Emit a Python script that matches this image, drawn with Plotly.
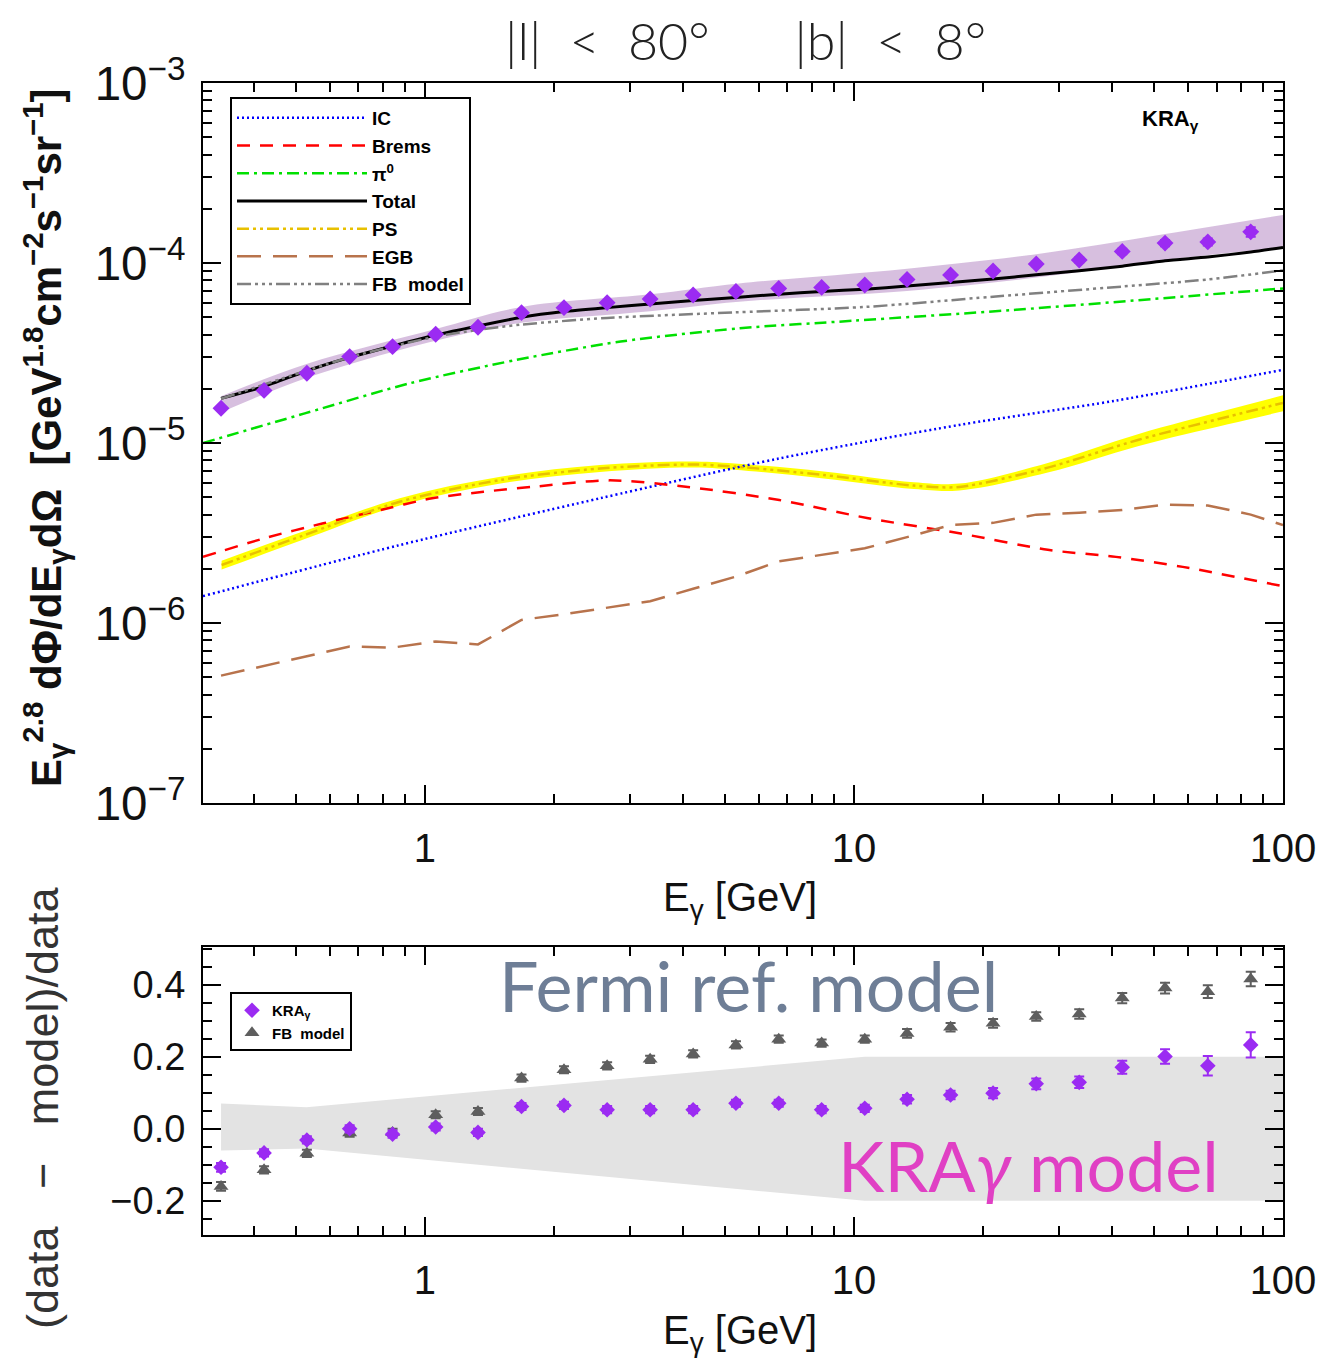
import plotly.graph_objects as go

# ---------------- data ----------------
E_data = [0.335, 0.422, 0.531, 0.668, 0.841, 1.06, 1.33, 1.68, 2.11, 2.66, 3.35, 4.22, 5.31,
          6.68, 8.41, 10.6, 13.3, 16.8, 21.1, 26.6, 33.5, 42.2, 53.1, 66.8, 84.1]
flux_data = [1.56e-5, 1.96e-5, 2.44e-5, 3.02e-5, 3.43e-5, 4.02e-5, 4.40e-5, 5.30e-5, 5.65e-5,
             6.02e-5, 6.31e-5, 6.64e-5, 6.94e-5, 7.22e-5, 7.32e-5, 7.55e-5, 8.11e-5, 8.58e-5,
             9.03e-5, 9.87e-5, 1.04e-4, 1.16e-4, 1.29e-4, 1.31e-4, 1.49e-4]
flux_err = [3e-7, 4e-7, 5e-7, 6e-7, 7e-7, 8e-7, 9e-7, 1.0e-6, 1.1e-6, 1.2e-6, 1.3e-6, 1.4e-6,
            1.5e-6, 1.6e-6, 1.7e-6, 1.8e-6, 2.0e-6, 2.2e-6, 2.5e-6, 2.9e-6, 3.3e-6, 4.0e-6,
            5.0e-6, 6.0e-6, 9.0e-6]

band_E = [0.335, 0.53, 1.06, 1.68, 3.35, 5.4, 13.3, 26.6, 53.1, 100]
band_lo = [1.48e-5, 2.3e-5, 3.7e-5, 4.65e-5, 5.4e-5, 6.1e-5, 7.0e-5, 8.3e-5, 1.04e-4, 1.22e-4]
band_hi = [1.82e-5, 2.75e-5, 4.3e-5, 5.7e-5, 6.7e-5, 7.7e-5, 9.3e-5, 1.12e-4, 1.45e-4, 1.85e-4]

ic_E = [0.304, 0.874, 2.56, 6.69, 17.6, 40.8, 100]
ic_val = [1.41e-6, 2.71e-6, 4.93e-6, 8.2e-6, 1.26e-5, 1.72e-5, 2.55e-5]

brems_E = [0.304, 0.43, 0.58, 0.77, 1.04, 1.37, 1.79, 2.7, 4.1, 6.7, 10.8, 17.6, 28.3, 40.8, 58.4, 100]
brems_val = [2.33e-6, 2.99e-6, 3.58e-6, 4.19e-6, 4.93e-6, 5.36e-6, 5.71e-6, 6.2e-6, 5.7e-6,
             4.82e-6, 3.82e-6, 3.15e-6, 2.55e-6, 2.33e-6, 2.05e-6, 1.6e-6]

pi0_E = [0.304, 0.525, 0.925, 1.63, 2.86, 5.42, 10.0, 23.4, 100]
pi0_val = [1.0e-5, 1.46e-5, 2.15e-5, 2.89e-5, 3.66e-5, 4.34e-5, 4.78e-5, 5.48e-5, 7.22e-5]

total_E = [0.335, 0.422, 0.531, 0.668, 0.841, 1.06, 1.33, 1.68, 2.11, 2.66, 3.35, 4.22, 5.31,
           6.68, 8.41, 10.6, 13.3, 16.8, 21.1, 26.6, 33.5, 42.2, 53.1, 66.8, 84.1, 100]
total_val = [1.77e-5, 2.06e-5, 2.52e-5, 2.99e-5, 3.46e-5, 3.98e-5, 4.47e-5, 4.99e-5, 5.37e-5,
             5.65e-5, 5.92e-5, 6.18e-5, 6.44e-5, 6.7e-5, 6.95e-5, 7.15e-5, 7.45e-5, 7.8e-5,
             8.15e-5, 8.6e-5, 9.05e-5, 9.6e-5, 1.03e-4, 1.08e-4, 1.15e-4, 1.22e-4]

ps_E = [0.336, 0.512, 0.874, 1.5, 2.56, 4.14, 5.27, 8.5, 13.8, 17.6, 28.3, 45.9, 74.4, 100]
ps_val = [2.1e-6, 3.02e-6, 4.72e-6, 6.23e-6, 7.22e-6, 7.6e-6, 7.4e-6, 6.64e-6, 5.8e-6, 5.7e-6,
          7.3e-6, 1.04e-5, 1.40e-5, 1.67e-5]
ps_lo = [1.98e-6, 2.86e-6, 4.5e-6, 5.95e-6, 6.9e-6, 7.3e-6, 7.1e-6, 6.35e-6, 5.55e-6, 5.45e-6,
         6.85e-6, 9.6e-6, 1.27e-5, 1.50e-5]
ps_hi = [2.22e-6, 3.18e-6, 4.94e-6, 6.5e-6, 7.55e-6, 7.9e-6, 7.7e-6, 6.95e-6, 6.05e-6, 5.95e-6,
         7.75e-6, 1.12e-5, 1.53e-5, 1.84e-5]

egb_E = [0.335, 0.668, 0.841, 1.06, 1.33, 1.68, 2.11, 2.66, 3.35, 4.22, 5.31, 6.68, 8.41, 10.6,
         13.3, 16.8, 21.1, 26.6, 33.5, 42.2, 53.1, 66.8, 84.1, 100]
egb_val = [5.1e-7, 7.4e-7, 7.3e-7, 7.9e-7, 7.6e-7, 1.04e-6, 1.12e-6, 1.22e-6, 1.32e-6, 1.55e-6,
           1.81e-6, 2.2e-6, 2.4e-6, 2.6e-6, 3.0e-6, 3.5e-6, 3.6e-6, 4.0e-6, 4.1e-6, 4.25e-6,
           4.55e-6, 4.5e-6, 4.0e-6, 3.5e-6]

fb_E = [0.335, 0.668, 1.06, 1.33, 1.68, 2.66, 5.31, 10.6, 21.1, 42.2, 66.8, 100]
fb_val = [1.76e-5, 2.99e-5, 3.9e-5, 4.25e-5, 4.55e-5, 4.95e-5, 5.32e-5, 5.7e-5, 6.5e-5, 7.4e-5,
          8.1e-5, 9.1e-5]

res_kra = [-0.107, -0.067, -0.031, 0.0, -0.015, 0.005, -0.01, 0.062, 0.065, 0.053, 0.053, 0.053,
           0.071, 0.071, 0.053, 0.057, 0.082, 0.094, 0.099, 0.125, 0.129, 0.171, 0.201, 0.175, 0.233]
res_kra_err = [0.012, 0.01, 0.01, 0.01, 0.01, 0.01, 0.01, 0.01, 0.01, 0.01, 0.01, 0.01, 0.01,
               0.01, 0.01, 0.01, 0.012, 0.012, 0.014, 0.015, 0.016, 0.018, 0.02, 0.027, 0.035]
res_fb = [-0.160, -0.114, -0.068, -0.012, -0.010, 0.039, 0.048, 0.141, 0.164, 0.175, 0.193, 0.208,
          0.233, 0.249, 0.238, 0.249, 0.265, 0.282, 0.293, 0.312, 0.319, 0.363, 0.391, 0.381, 0.416]
res_fb_err = [0.012, 0.01, 0.01, 0.01, 0.01, 0.01, 0.01, 0.01, 0.01, 0.01, 0.01, 0.01, 0.01,
              0.01, 0.01, 0.01, 0.012, 0.012, 0.012, 0.012, 0.013, 0.014, 0.015, 0.018, 0.02]

res_band_E = [0.335, 0.53, 10.6, 100]
res_band_lo = [-0.06, -0.055, -0.2, -0.2]
res_band_hi = [0.07, 0.06, 0.2, 0.2]

# ---------------- figure ----------------
W, H = 1327, 1360
OFF = 8  # page body margin
fig = go.Figure()

PURPLE = "#9B2BF2"
GRAYPT = "#5E5E5E"
FONT = "Liberation Sans"

# top panel band
fig.add_trace(go.Scatter(x=band_E, y=band_lo, mode="lines", line=dict(width=0, shape="spline"),
                         showlegend=False, hoverinfo="skip", xaxis="x", yaxis="y"))
fig.add_trace(go.Scatter(x=band_E, y=band_hi, mode="lines", line=dict(width=0, shape="spline"),
                         fill="tonexty", fillcolor="rgba(205,175,215,0.8)",
                         showlegend=False, hoverinfo="skip", xaxis="x", yaxis="y"))
# PS band
fig.add_trace(go.Scatter(x=ps_E, y=ps_lo, mode="lines", line=dict(width=0, shape="spline"),
                         showlegend=False, hoverinfo="skip", xaxis="x", yaxis="y"))
fig.add_trace(go.Scatter(x=ps_E, y=ps_hi, mode="lines", line=dict(width=0, shape="spline"),
                         fill="tonexty", fillcolor="#FFFF00",
                         showlegend=False, hoverinfo="skip", xaxis="x", yaxis="y"))

sm = 0.8
fig.add_trace(go.Scatter(x=ic_E, y=ic_val, mode="lines", name="IC",
                         line=dict(color="#0000FF", width=2.5, dash="2px,3px", shape="spline", smoothing=sm),
                         xaxis="x", yaxis="y"))
fig.add_trace(go.Scatter(x=brems_E, y=brems_val, mode="lines", name="Brems",
                         line=dict(color="#FF0000", width=2.5, dash="13px,10px", shape="spline", smoothing=sm),
                         xaxis="x", yaxis="y"))
fig.add_trace(go.Scatter(x=pi0_E, y=pi0_val, mode="lines", name="π<sup>0</sup>",
                         line=dict(color="#00E000", width=2.5, dash="12px,5px,3px,5px", shape="spline", smoothing=sm),
                         xaxis="x", yaxis="y"))
fig.add_trace(go.Scatter(x=total_E, y=total_val, mode="lines", name="Total",
                         line=dict(color="#000000", width=3, shape="spline", smoothing=0.6),
                         xaxis="x", yaxis="y"))
fig.add_trace(go.Scatter(x=ps_E, y=ps_val, mode="lines", name="PS",
                         line=dict(color="#E8C000", width=2.5, dash="12px,4px,3px,4px,3px,4px", shape="spline", smoothing=sm),
                         xaxis="x", yaxis="y"))
fig.add_trace(go.Scatter(x=egb_E, y=egb_val, mode="lines", name="EGB",
                         line=dict(color="#B8734C", width=2.5, dash="24px,12px"),
                         xaxis="x", yaxis="y"))
fig.add_trace(go.Scatter(x=fb_E, y=fb_val, mode="lines", name="FB  model",
                         line=dict(color="#808080", width=2.5, dash="14px,4px,3px,4px,3px,4px,3px,4px", shape="spline", smoothing=sm),
                         xaxis="x", yaxis="y"))
fig.add_trace(go.Scatter(x=E_data, y=flux_data, mode="markers", showlegend=False,
                         marker=dict(symbol="diamond", size=13, color=PURPLE),
                         error_y=dict(type="data", array=flux_err, color=PURPLE, thickness=2, width=5),
                         xaxis="x", yaxis="y"))

# bottom panel
fig.add_trace(go.Scatter(x=res_band_E, y=res_band_lo, mode="lines", line=dict(width=0),
                         showlegend=False, hoverinfo="skip", xaxis="x2", yaxis="y2"))
fig.add_trace(go.Scatter(x=res_band_E, y=res_band_hi, mode="lines", line=dict(width=0),
                         fill="tonexty", fillcolor="#E3E3E3",
                         showlegend=False, hoverinfo="skip", xaxis="x2", yaxis="y2"))
fig.add_trace(go.Scatter(x=E_data, y=res_fb, mode="markers", name="FB  model", legend="legend2",
                         marker=dict(symbol="triangle-up", size=13, color=GRAYPT),
                         error_y=dict(type="data", array=res_fb_err, color=GRAYPT, thickness=2, width=5),
                         xaxis="x2", yaxis="y2"))
fig.add_trace(go.Scatter(x=E_data, y=res_kra, mode="markers", name="KRA<sub>γ</sub>", legend="legend2",
                         marker=dict(symbol="diamond", size=12, color=PURPLE),
                         error_y=dict(type="data", array=res_kra_err, color=PURPLE, thickness=2, width=5),
                         xaxis="x2", yaxis="y2"))


# layout geometry (reference pixels -> paper)
def px(x):
    return (x - OFF) / W


def py(y):
    return 1 - (y - OFF) / H


xl, xr = 203, 1283
top_t, top_b = 83, 803
bot_t, bot_b = 947, 1235

axis_common = dict(showline=True, linecolor="black", linewidth=2, mirror="allticks",
                   ticks="inside", tickcolor="black", tickwidth=2, showgrid=False, zeroline=False,
                   automargin=False)

xaxis_common = dict(axis_common, type="log", range=[-0.517, 2.0], tickvals=[1, 10, 100],
                    ticktext=["1", "10", "100"], ticklen=18,
                    tickfont=dict(family=FONT, size=40, color="#111"),
                    minor=dict(ticks="inside", ticklen=9, tickwidth=2, tickcolor="black",
                               tickvals=[0.4, 0.5, 0.6, 0.7, 0.8, 0.9, 2, 3, 4, 5, 6, 7, 8, 9,
                                         20, 30, 40, 50, 60, 70, 80, 90]))

fig.update_layout(
    width=W, height=H,
    margin=dict(l=0, r=0, t=0, b=0),
    paper_bgcolor="white", plot_bgcolor="white",
    xaxis=dict(xaxis_common, domain=[px(xl), px(xr)], anchor="y", ticklabelstandoff=9),
    yaxis=dict(axis_common, type="log", range=[-7, -3], domain=[py(top_b), py(top_t)], anchor="x",
               dtick=1, exponentformat="power", ticklen=18, ticklabelstandoff=8,
               tickfont=dict(family=FONT, size=38, color="#111"),
               minor=dict(ticks="inside", ticklen=9, tickwidth=2, tickcolor="black", dtick="D1")),
    xaxis2=dict(xaxis_common, domain=[px(xl), px(xr)], anchor="y2", ticklabelstandoff=9),
    yaxis2=dict(axis_common, range=[-0.295, 0.505], domain=[py(bot_b), py(bot_t)], anchor="x2",
                tickvals=[-0.2, 0.0, 0.2, 0.4], ticktext=["−0.2", "0.0", "0.2", "0.4"], ticklen=18,
                ticklabelstandoff=8, tickfont=dict(family=FONT, size=38, color="#111"),
                minor=dict(ticks="inside", ticklen=9, tickwidth=2, tickcolor="black", dtick=0.05)),
    legend=dict(x=px(230), y=py(97), xanchor="left", yanchor="top", bgcolor="white",
                bordercolor="black", borderwidth=2, itemwidth=130, tracegroupgap=0,
                traceorder="normal",
                font=dict(family=FONT, size=19, color="black", weight="bold")),
    legend2=dict(x=px(230), y=py(992), xanchor="left", yanchor="top", bgcolor="white",
                 bordercolor="black", borderwidth=2, tracegroupgap=0, traceorder="reversed",
                 itemwidth=30,
                 font=dict(family=FONT, size=15, color="black", weight="bold")),
    showlegend=True,
)

ann = [
    dict(text="|l|  <  80°      |b|  <  8°", x=px(745), y=py(40),
         font=dict(family="Lato", size=52, color="#222", weight=300)),
    dict(text="KRA<sub>γ</sub>", x=px(1170), y=py(120),
         font=dict(family=FONT, size=22, color="black", weight="bold")),
    dict(text="E<sub>γ</sub> [GeV]", x=px(740), y=py(900), font=dict(family=FONT, size=40, color="#111")),
    dict(text="E<sub>γ</sub> [GeV]", x=px(740), y=py(1333), font=dict(family=FONT, size=40, color="#111")),
    dict(text="E<sub>γ</sub><sup>2.8</sup> dΦ/dE<sub>γ</sub>dΩ  [GeV<sup>1.8</sup>cm<sup>−2</sup>s<sup>−1</sup>sr<sup>−1</sup>]",
         x=px(45), y=py(438), textangle=-90, font=dict(family=FONT, size=42, color="#111", weight="bold")),
    dict(text="(data   −   model)/data", x=px(42), y=py(1108), textangle=-90,
         font=dict(family=FONT, size=45, color="#333")),
    dict(text="Fermi ref. model", x=px(748), y=py(985), font=dict(family="Lato", size=70, color="#6E7E96")),
    dict(text="KRA<i>γ</i> model", x=px(1028), y=py(1165), font=dict(family="Lato", size=70, color="#E040C4")),
]
for a in ann:
    a.update(xref="paper", yref="paper", showarrow=False, xanchor="center", yanchor="middle")
fig.update_layout(annotations=ann)

fig.write_html("out.html")
